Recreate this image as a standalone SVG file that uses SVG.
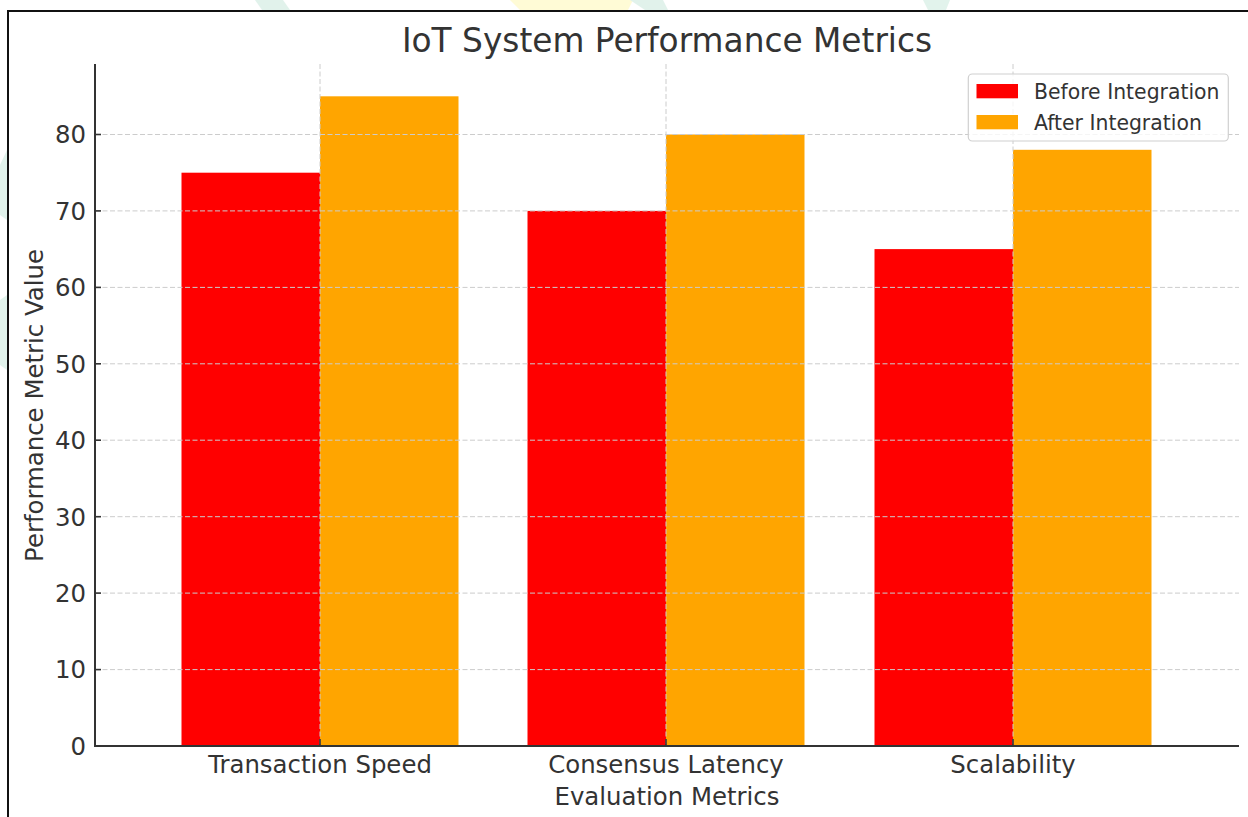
<svg xmlns="http://www.w3.org/2000/svg" width="1248" height="817" viewBox="0 0 1248 817">
  <style>
    .txt { font-family: "DejaVu Sans", "Liberation Sans", sans-serif; fill: #333333; }
    .grid { stroke: #cccccc; stroke-width: 1; stroke-dasharray: 5 2.5; fill: none; }
    .spine { stroke: #333333; stroke-width: 2; fill: none; }
    .tick { stroke: #333333; stroke-width: 1.6; }
    .before { fill: #ff0000; }
    .after { fill: #ffa500; }
  </style>
  <rect x="0" y="0" width="1248" height="817" fill="#ffffff"/>
  <!-- faint watermark remnants -->
  <g id="watermark" opacity="0.3">
    <polygon points="255,0 283,0 290,10 262,10" fill="#9fd6c0"/>
    <polygon points="510,0 633,0 628,10 520,10" fill="#fff27a"/>
    <polygon points="630,0 663,0 668,10 645,10" fill="#9fd6c0"/>
    <polygon points="923,0 950,0 946,10 928,10" fill="#9fd6c0"/>
    <polygon points="0,165 7,150 7,220 0,215" fill="#9fd6c0"/>
    <polygon points="0,300 7,295 7,370 0,365" fill="#9fd6c0"/>
  </g>
  <!-- page frame -->
  <g id="frame">
    <line x1="7" y1="11" x2="1248" y2="11" stroke="#111111" stroke-width="2"/>
    <line x1="8" y1="10" x2="8" y2="817" stroke="#111111" stroke-width="2"/>
  </g>
  <text id="title" class="txt" x="667" y="52" font-size="32.8" text-anchor="middle">IoT System Performance Metrics</text>
  <!-- bars -->
  <g id="bars">
    <rect id="bar-ts-before" class="before" x="181.5" y="172.7" width="138.5" height="573.3"/>
    <rect id="bar-ts-after" class="after" x="320" y="96.3" width="138.5" height="649.7"/>
    <rect id="bar-cl-before" class="before" x="527.5" y="210.9" width="138.5" height="535.1"/>
    <rect id="bar-cl-after" class="after" x="666" y="134.5" width="138.5" height="611.5"/>
    <rect id="bar-sc-before" class="before" x="874.5" y="249.1" width="138.5" height="496.9"/>
    <rect id="bar-sc-after" class="after" x="1013" y="149.8" width="138.5" height="596.2"/>
  </g>
  <!-- grid -->
  <g id="grid">
    <line class="grid" x1="95" y1="669.6" x2="1239" y2="669.6"/>
    <line class="grid" x1="95" y1="593.1" x2="1239" y2="593.1"/>
    <line class="grid" x1="95" y1="516.7" x2="1239" y2="516.7"/>
    <line class="grid" x1="95" y1="440.2" x2="1239" y2="440.2"/>
    <line class="grid" x1="95" y1="363.8" x2="1239" y2="363.8"/>
    <line class="grid" x1="95" y1="287.4" x2="1239" y2="287.4"/>
    <line class="grid" x1="95" y1="210.9" x2="1239" y2="210.9"/>
    <line class="grid" x1="95" y1="134.5" x2="1239" y2="134.5"/>
    <line class="grid" x1="320" y1="64" x2="320" y2="746"/>
    <line class="grid" x1="666" y1="64" x2="666" y2="746"/>
    <line class="grid" x1="1013" y1="64" x2="1013" y2="746"/>
  </g>
  <!-- axes -->
  <g id="axes">
    <line class="spine" x1="95" y1="64" x2="95" y2="747"/>
    <line class="spine" x1="94" y1="746" x2="1239" y2="746"/>
    <g id="yticks">
      <line class="tick" x1="95" y1="746" x2="101" y2="746"/>
      <line class="tick" x1="95" y1="669.6" x2="101" y2="669.6"/>
      <line class="tick" x1="95" y1="593.1" x2="101" y2="593.1"/>
      <line class="tick" x1="95" y1="516.7" x2="101" y2="516.7"/>
      <line class="tick" x1="95" y1="440.2" x2="101" y2="440.2"/>
      <line class="tick" x1="95" y1="363.8" x2="101" y2="363.8"/>
      <line class="tick" x1="95" y1="287.4" x2="101" y2="287.4"/>
      <line class="tick" x1="95" y1="210.9" x2="101" y2="210.9"/>
      <line class="tick" x1="95" y1="134.5" x2="101" y2="134.5"/>
    </g>
    <g id="xticks">
      <line class="tick" x1="320" y1="746" x2="320" y2="739"/>
      <line class="tick" x1="666" y1="746" x2="666" y2="739"/>
      <line class="tick" x1="1013" y1="746" x2="1013" y2="739"/>
    </g>
    <g id="ytick-labels" font-size="24.4" text-anchor="end">
      <text class="txt" x="86" y="754.8">0</text>
      <text class="txt" x="86" y="678.4">10</text>
      <text class="txt" x="86" y="601.9">20</text>
      <text class="txt" x="86" y="525.5">30</text>
      <text class="txt" x="86" y="449">40</text>
      <text class="txt" x="86" y="372.6">50</text>
      <text class="txt" x="86" y="296.2">60</text>
      <text class="txt" x="86" y="219.7">70</text>
      <text class="txt" x="86" y="143.3">80</text>
    </g>
    <g id="xtick-labels" font-size="24.4" text-anchor="middle">
      <text class="txt" x="320" y="773">Transaction Speed</text>
      <text class="txt" x="666" y="773">Consensus Latency</text>
      <text class="txt" x="1013" y="773">Scalability</text>
    </g>
    <text id="xlabel" class="txt" x="667" y="805" font-size="24.4" text-anchor="middle">Evaluation Metrics</text>
    <text id="ylabel" class="txt" x="0" y="0" font-size="24.4" text-anchor="middle" transform="translate(43,405.5) rotate(-90)">Performance Metric Value</text>
  </g>
  <!-- legend -->
  <g id="legend">
    <rect x="968.3" y="74" width="260" height="67" rx="4" ry="4" fill="#ffffff" fill-opacity="0.8" stroke="#d0d0d0" stroke-width="1.2"/>
    <rect class="before" x="976.5" y="84" width="41.5" height="14.3"/>
    <rect class="after" x="976.5" y="115" width="41.5" height="14.3"/>
    <text class="txt" x="1034" y="99" font-size="20.4">Before Integration</text>
    <text class="txt" x="1034" y="130" font-size="20.4">After Integration</text>
  </g>
</svg>
